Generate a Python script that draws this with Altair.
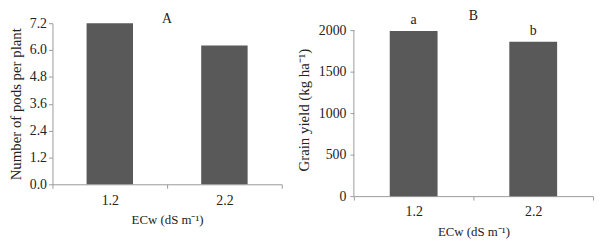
import altair as alt
import pandas as pd

categories = ["1.2", "2.2"]
pods_per_plant = [7.2, 6.2]
grain_yield = [1988, 1861]
letters = ["a", "b"]
pods_ticks = [0.0, 1.2, 2.4, 3.6, 4.8, 6.0, 7.2]
yield_ticks = [0, 500, 1000, 1500, 2000]

dfA = pd.DataFrame({"ecw": categories, "pods": pods_per_plant})
dfB = pd.DataFrame({"ecw": categories, "yield": grain_yield, "letter": letters})

FONT = "Liberation Serif"
BAR = "#595959"
AXC = "#9a9a9a"

# left panel plot area 163 px tall; right panel 168 px for 0..2000 but it
# starts 7 px lower, so its view is 175 px tall with the top 7 px empty
H_A = 163
H_B = 175
YMAX_B = 2000 * H_B / 168


def xaxis():
    return alt.Axis(
        title="ECw (dS m⁻¹)",
        labelAngle=0,
        tickBand="extent",
        tickSize=4,
        labelPadding=5,
        titlePadding=7,
        titleFontSize=13,
    )


chartA = (
    alt.Chart(dfA)
    .mark_bar(color=BAR, width=alt.RelativeBandSize(0.405))
    .encode(
        x=alt.X("ecw:N", sort=categories,
                scale=alt.Scale(paddingInner=0, paddingOuter=0), axis=xaxis()),
        y=alt.Y("pods:Q", scale=alt.Scale(domain=[0, 7.2], nice=False),
                axis=alt.Axis(values=pods_ticks, format=".1f",
                              title="Number of pods per plant", titlePadding=6)),
    )
    .properties(width=232, height=H_A,
                title=alt.TitleParams("A", frame="group", offset=-10))
)

barsB = (
    alt.Chart(dfB)
    .mark_bar(color=BAR, width=alt.RelativeBandSize(0.4))
    .encode(
        x=alt.X("ecw:N", sort=categories,
                scale=alt.Scale(paddingInner=0, paddingOuter=0), axis=xaxis()),
        y=alt.Y("yield:Q", scale=alt.Scale(domain=[0, YMAX_B], nice=False),
                axis=alt.Axis(values=yield_ticks, format="d", domain=False,
                              labelPadding=4,
                              title="Grain yield  (kg ha⁻¹)", titlePadding=7)),
    )
)
axisLineB = (
    alt.Chart(pd.DataFrame({"lo": [min(yield_ticks)], "hi": [max(yield_ticks)]}))
    .mark_rule(color=AXC)
    .encode(x=alt.value(0), y="lo:Q", y2="hi:Q")
)
textB = (
    alt.Chart(dfB)
    .mark_text(font=FONT, fontSize=14, baseline="alphabetic", dy=-7, color="#222")
    .encode(x=alt.X("ecw:N", sort=categories), y="yield:Q", text="letter:N")
)
chartB = (barsB + axisLineB + textB).properties(
    width=242, height=H_B,
    title=alt.TitleParams("B", frame="group", offset=-10))

chart = (
    alt.hconcat(chartA, chartB, spacing=14)
    .properties(padding={"left": 0, "top": 0, "right": 0, "bottom": 0})
    .configure_view(stroke=None)
    .configure_axis(
        grid=False,
        domainColor=AXC,
        tickColor=AXC,
        labelFont=FONT,
        labelFontSize=14,
        labelColor="#222",
        titleFont=FONT,
        titleFontSize=15,
        titleFontWeight="normal",
        titleColor="#222",
        tickSize=4,
        labelPadding=2,
    )
    .configure_title(font=FONT, fontSize=14, fontWeight="normal", color="#222")
)

chart.save("out.html", embed_options={"renderer": "svg", "actions": False})
